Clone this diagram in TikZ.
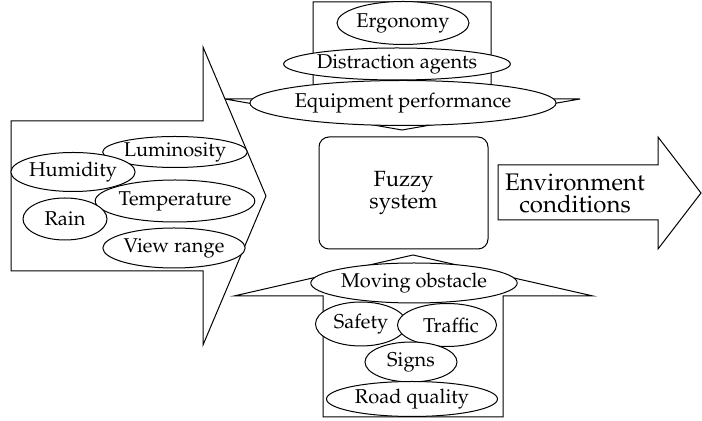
\documentclass[tikz,border=0pt]{standalone}
\usepackage[T1]{fontenc}
\usepackage{mathpazo}
\usetikzlibrary{shapes.geometric}

\tikzset{
  factor/.style={ellipse, draw, fill=white, inner sep=0pt},
  bigarrow/.style={draw, fill=white, line join=miter},
  fuzzybox/.style={draw, rounded corners=5pt, align=center, inner sep=0pt}
}

\begin{document}
\begin{tikzpicture}[x=0.5pt,y=-0.5pt,line width=0.5pt]
  \useasboundingbox (0,0) rectangle (702,421);
  % arrows
  \draw[bigarrow] (11,121) -- (203,121) -- (203,47) -- (266,196) -- (203,345) -- (203,271) -- (11,271) -- cycle;
  \draw[bigarrow] (313,2) -- (491,2) -- (491,99) -- (580,99) -- (402,130) -- (225,99) -- (313,99) -- cycle;
  \draw[bigarrow] (323,417) -- (503,417) -- (503,296) -- (593,296) -- (413,255) -- (234,296) -- (323,296) -- cycle;
  \draw[bigarrow] (498,165) -- (658,165) -- (658,137) -- (701,193) -- (658,249) -- (658,220) -- (498,220) -- cycle;

  % environment
  \node[factor, minimum width=68.5pt, minimum height=15.5pt] (lum) at (175,152) {Luminosity};
  \node[factor, minimum width=60.5pt, minimum height=19.5pt] (hum) at (73,172) {Humidity};
  \node[factor, minimum width=73pt, minimum height=21pt] (temp) at (175,201) {Temperature};
  \node[factor, minimum width=42pt, minimum height=21pt] (rain) at (65,219) {Rain};
  \node[factor, minimum width=68pt, minimum height=20pt] (view) at (174,248) {View range};

  % driver
  \node[factor, minimum width=66pt, minimum height=21.5pt] (ergo) at (403,23) {Ergonomy};
  \node[factor, minimum width=110pt, minimum height=16pt] (dist) at (397,64) {Distraction agents};
  \node[factor, minimum width=131.5pt, minimum height=22.5pt] (equip) at (403,103) {Equipment performance};

  % road
  \node[factor, minimum width=101.5pt, minimum height=20pt] (moving) at (414,283) {Moving obstacle};
  \node[factor, minimum width=45.5pt, minimum height=22pt] (safety) at (361,324) {Safety};
  \node[factor, minimum width=49.5pt, minimum height=21.5pt] (traffic) at (447,325) {\hspace{4pt}Traffic};
  \node[factor, minimum width=46pt, minimum height=20pt] (signs) at (411,362) {Signs};
  \node[factor, minimum width=85.5pt, minimum height=17.5pt] (road) at (412,399) {Road quality};

  \node[fuzzybox, minimum width=84.5pt, minimum height=56pt, font=\fontsize{11}{11}\selectfont] (fuzzy) at (403.5,193) {Fuzzy\\system};
  \node[align=center, font=\fontsize{12}{11}\selectfont] (out) at (575,193) {Environment\\conditions};
\end{tikzpicture}
\end{document}
